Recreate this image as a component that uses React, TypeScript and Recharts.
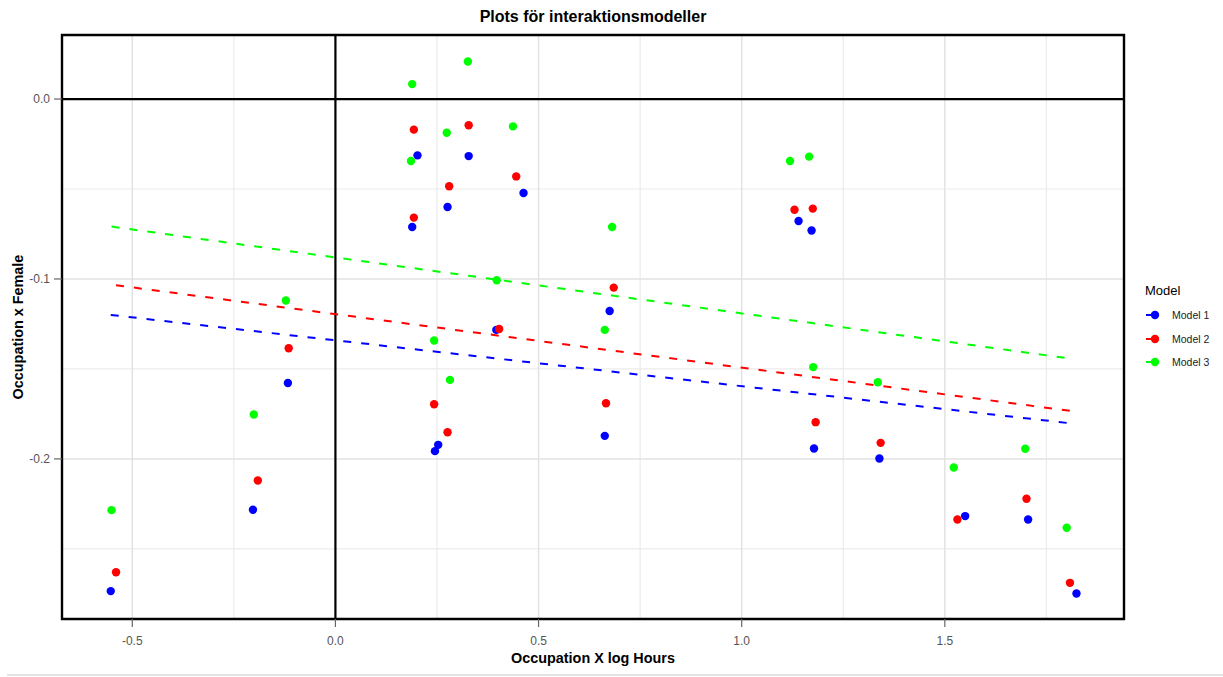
import React from 'react';
import {
  ComposedChart,
  Scatter,
  Line,
  XAxis,
  YAxis,
  CartesianGrid,
  ReferenceLine,
  ReferenceArea,
} from 'recharts';

const font = '"Liberation Sans", Arial, sans-serif';

const colors = {
  model1: '#0000FF',
  model2: '#FF0000',
  model3: '#00FF00',
  tickText: '#555555',
  tickLine: '#666666',
  grid: '#e2e2e2',
  minorGrid: '#ebebeb',
};

const seriesNames = ['Model 1', 'Model 2', 'Model 3'];

// Punkter per modell (läst från bilden)
const model1X = [-0.553, -0.203, -0.117, 0.202, 0.189, 0.245, 0.253, 0.276, 0.328, 0.396, 0.463, 0.663, 0.675, 1.14, 1.172, 1.178, 1.339, 1.55, 1.705, 1.824];
const model1Y = [-0.2735, -0.2283, -0.1578, -0.0313, -0.0711, -0.1957, -0.1922, -0.06, -0.0317, -0.1283, -0.0522, -0.1872, -0.1178, -0.0678, -0.0731, -0.1942, -0.1998, -0.2318, -0.2337, -0.2748];

const model2X = [-0.54, -0.191, -0.115, 0.193, 0.193, 0.243, 0.276, 0.28, 0.328, 0.403, 0.445, 0.666, 0.685, 1.13, 1.175, 1.182, 1.342, 1.531, 1.701, 1.808];
const model2Y = [-0.263, -0.212, -0.1385, -0.017, -0.0659, -0.1696, -0.1852, -0.0485, -0.0146, -0.1278, -0.043, -0.1691, -0.1048, -0.0615, -0.0609, -0.1796, -0.1911, -0.2337, -0.2222, -0.2689];

const model3X = [-0.551, -0.201, -0.122, 0.189, 0.186, 0.243, 0.282, 0.274, 0.326, 0.397, 0.437, 0.663, 0.681, 1.119, 1.166, 1.176, 1.335, 1.522, 1.698, 1.8];
const model3Y = [-0.2285, -0.1753, -0.112, 0.0083, -0.0344, -0.1342, -0.1561, -0.0187, 0.0209, -0.1007, -0.0152, -0.1283, -0.0711, -0.0344, -0.032, -0.149, -0.1574, -0.2048, -0.1944, -0.2383];

// Regressionslinjer (start/slut)
const trend1X = [-0.553, 1.824];
const trend1Y = [-0.12, -0.1806];
const trend2X = [-0.54, 1.808];
const trend2Y = [-0.1035, -0.1733];
const trend3X = [-0.551, 1.8];
const trend3Y = [-0.0709, -0.144];

const xTicks = [-0.5, 0, 0.5, 1, 1.5];
const yTicks = [-0.2, -0.1, 0];
const xMinor = [-0.25, 0.25, 0.75, 1.25, 1.75];
const yMinor = [-0.25, -0.15, -0.05];

const X_DOMAIN: [number, number] = [-0.673, 1.941];
const Y_DOMAIN: [number, number] = [-0.289, 0.0356];

const zip = (xs: number[], ys: number[]) => xs.map((x, i) => ({ x, y: ys[i] }));

const points = [zip(model1X, model1Y), zip(model2X, model2Y), zip(model3X, model3Y)];
const trends = [zip(trend1X, trend1Y), zip(trend2X, trend2Y), zip(trend3X, trend3Y)];
const seriesColors = [colors.model1, colors.model2, colors.model3];

const dot = (color: string) => (props: any) =>
  <circle cx={props.cx} cy={props.cy} r={4.2} fill={color} />;

const fmt = (v: number) => v.toFixed(1);

export default function App() {
  return (
    <div style={{ position: 'absolute', left: 0, top: 0, width: 1223, height: 677, background: '#fff', fontFamily: font }}>
      <div
        style={{
          position: 'absolute',
          left: 62,
          width: 1062,
          top: 6,
          textAlign: 'center',
          fontWeight: 'bold',
          fontSize: 16,
          lineHeight: '22px',
          color: '#000',
        }}
      >
        Plots för interaktionsmodeller
      </div>

      <ComposedChart width={1223} height={677} margin={{ top: 35, right: 99, bottom: 0, left: 0 }}>
        <CartesianGrid stroke={colors.minorGrid} strokeWidth={1.2} horizontalValues={yMinor} verticalValues={xMinor} />
        <CartesianGrid stroke={colors.grid} strokeWidth={1.5} horizontalValues={yTicks} verticalValues={xTicks} />
        <XAxis
          type="number"
          dataKey="x"
          domain={X_DOMAIN}
          allowDataOverflow
          ticks={xTicks}
          tickFormatter={fmt}
          height={58}
          axisLine={false}
          tickSize={8}
          tickMargin={9}
          tickLine={{ stroke: colors.tickLine, strokeWidth: 1.2 }}
          tick={{ fill: colors.tickText, fontSize: 12, fontFamily: font }}
          label={{
            content: (p: any) => {
              const vb = p.viewBox;
              return (
                <text x={vb.x + vb.width / 2} y={658} textAnchor="middle" dominantBaseline="central" fontFamily={font} fontSize={14.4} fontWeight="bold" fill="#000">
                  Occupation X log Hours
                </text>
              );
            },
          }}
        />
        <YAxis
          type="number"
          dataKey="y"
          domain={Y_DOMAIN}
          allowDataOverflow
          ticks={yTicks}
          tickFormatter={fmt}
          width={62}
          axisLine={false}
          tickSize={8}
          tickMargin={4}
          tickLine={{ stroke: colors.tickLine, strokeWidth: 1.2 }}
          tick={{ fill: colors.tickText, fontSize: 12, fontFamily: font }}
          label={{
            content: (p: any) => {
              const vb = p.viewBox;
              const cy = vb.y + vb.height / 2;
              return (
                <text x={18} y={cy} transform={`rotate(-90 18 ${cy})`} textAnchor="middle" dominantBaseline="central" fontFamily={font} fontSize={14.4} fontWeight="bold" fill="#000">
                  Occupation x Female
                </text>
              );
            },
          }}
        />
        <ReferenceLine x={0} stroke="#000" strokeWidth={2.2} />
        <ReferenceLine y={0} stroke="#000" strokeWidth={2.2} />
        <ReferenceArea x1={X_DOMAIN[0]} x2={X_DOMAIN[1]} y1={Y_DOMAIN[0]} y2={Y_DOMAIN[1]} fill="none" stroke="#000" strokeWidth={2.4} />

        {trends.map((d, i) => (
          <Line
            key={`t${i}`}
            data={d}
            dataKey="y"
            stroke={seriesColors[i]}
            strokeWidth={2}
            strokeDasharray="8 10"
            dot={false}
            activeDot={false}
            legendType="none"
            isAnimationActive={false}
          />
        ))}
        {points.map((d, i) => (
          <Scatter key={`p${i}`} name={seriesNames[i]} data={d} fill={seriesColors[i]} shape={dot(seriesColors[i])} isAnimationActive={false} />
        ))}
      </ComposedChart>

      {/* Legend */}
      <div style={{ position: 'absolute', left: 1145, top: 282, fontSize: 13, lineHeight: '18px', color: '#000' }}>Model</div>
      {seriesNames.map((name, i) => (
        <div key={name} style={{ position: 'absolute', left: 1145, top: 306 + i * 23.5, height: 18, display: 'flex', alignItems: 'center' }}>
          <svg width={20} height={18} style={{ display: 'block' }}>
            <line x1={1} y1={9} x2={12} y2={9} stroke={seriesColors[i]} strokeWidth={2} />
            <circle cx={10} cy={9} r={4.2} fill={seriesColors[i]} />
          </svg>
          <span style={{ marginLeft: 7, fontSize: 10.5, color: '#222' }}>{name}</span>
        </div>
      ))}

      <div style={{ position: 'absolute', left: 7, right: 0, top: 674, height: 2, background: '#e4e4e4' }} />
    </div>
  );
}
